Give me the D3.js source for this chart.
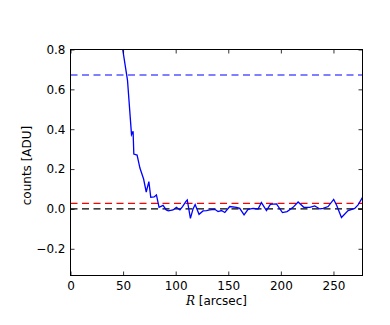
<!DOCTYPE html>
<html>
<head>
<meta charset="utf-8">
<script src="https://cdn.jsdelivr.net/npm/d3@7"></script>
<style>
  body { margin: 0; background: #fff; }
  svg { display: block; }
  text { font-family: "DejaVu Sans", sans-serif; }
</style>
</head>
<body>
<svg width="390" height="325"></svg>
<script>
// radial profile, R in arcsec, counts in ADU
var radius = [47, 54.2, 58, 59.5, 60.2, 63.3, 66, 69.5, 72, 74.5, 76.3, 79.5, 81.7, 84.2, 88, 91, 93, 97.5,
  100.7, 104, 106.5, 109.6, 111, 114, 116.5, 118.5, 122.2, 126, 129.3, 132.4, 137.2, 140.3, 143.5, 146.7,
  151.4, 157.8, 160.9, 165, 168.8, 173.6, 178.3, 181.5, 186.3, 190, 195.8, 201.5, 205.9, 211.6, 216.4,
  221.8, 227.5, 232.2, 237, 240.1, 244.9, 250.2, 252.9, 257.6, 263.9, 270.2, 273.4, 277.6, 280];
var counts = [0.89, 0.645, 0.373, 0.39, 0.275, 0.27, 0.205, 0.15, 0.085, 0.137, 0.058, 0.06, 0.07, 0.008,
  0.018, -0.005, -0.01, -0.005, 0.008, -0.005, 0.012, 0.037, 0.045, -0.047, 0.0, 0.022, -0.027, -0.01,
  -0.008, -0.005, -0.002, -0.013, -0.008, -0.018, 0.012, 0.008, 0.003, -0.03, -0.002, 0.003, 0.0, 0.032,
  -0.008, 0.023, 0.025, -0.018, -0.013, 0.008, 0.035, 0.008, 0.008, 0.015, 0.0, 0.003, 0.012, 0.048, 0.02,
  -0.043, -0.008, 0.003, 0.02, 0.058, 0.07];

// horizontal reference levels
var levels = [0.672, 0.028, 0.0];
var levelColors = ["#0000ff", "#ff0000", "#000000"];

var xTicks = [0, 50, 100, 150, 200, 250];
var yTicks = [-0.2, 0.0, 0.2, 0.4, 0.6, 0.8];

var pLeft = 70.5, pRight = 362.5, pTop = 49.5, pBottom = 275.5;

var svg = d3.select("svg");

var x = d3.scaleLinear().domain([0, 277.6]).range([pLeft, pRight]);
var y = d3.scaleLinear().domain([-0.334, 0.8]).range([pBottom, pTop]);

svg.append("clipPath").attr("id", "clip")
  .append("rect")
  .attr("x", pLeft).attr("y", pTop)
  .attr("width", pRight - pLeft).attr("height", pBottom - pTop);

var plot = svg.append("g").attr("clip-path", "url(#clip)");

plot.selectAll("line.level")
  .data(levels)
  .enter().append("line")
  .attr("class", "level")
  .attr("x1", pLeft).attr("x2", pRight)
  .attr("y1", function(d) { return y(d); })
  .attr("y2", function(d) { return y(d); })
  .attr("stroke", function(d, i) { return levelColors[i]; })
  .attr("stroke-width", 1.2)
  .attr("stroke-dasharray", "7,4.5");

var data = radius.map(function(r, i) { return [r, counts[i]]; });

var line = d3.line()
  .x(function(d) { return x(d[0]); })
  .y(function(d) { return y(d[1]); });

plot.append("path")
  .datum(data)
  .attr("d", line)
  .attr("fill", "none")
  .attr("stroke", "#0000ff")
  .attr("stroke-width", 1.3);

var fmtY = d3.format(".1f");

var gx = svg.append("g")
  .attr("transform", "translate(0," + pBottom + ")")
  .call(d3.axisBottom(x).tickValues(xTicks).tickSize(-4).tickPadding(6));
var gxt = svg.append("g")
  .attr("transform", "translate(0," + pTop + ")")
  .call(d3.axisTop(x).tickValues(xTicks).tickSize(-4).tickFormat(""));
var gy = svg.append("g")
  .attr("transform", "translate(" + pLeft + ",0)")
  .call(d3.axisLeft(y).tickValues(yTicks).tickSize(-4).tickPadding(5).tickFormat(fmtY));
var gyr = svg.append("g")
  .attr("transform", "translate(" + pRight + ",0)")
  .call(d3.axisRight(y).tickValues(yTicks).tickSize(-4).tickFormat(""));

[gx, gxt, gy, gyr].forEach(function(g) {
  g.select(".domain").remove();
  g.selectAll("line").attr("stroke", "#000").attr("stroke-width", 0.8);
  g.selectAll("text").attr("fill", "#000").style("font-size", "12px")
    .style("font-family", "DejaVu Sans, sans-serif");
});

svg.append("rect")
  .attr("x", pLeft).attr("y", pTop)
  .attr("width", pRight - pLeft).attr("height", pBottom - pTop)
  .attr("fill", "none")
  .attr("stroke", "#000")
  .attr("stroke-width", 1);

var xl = svg.append("text")
  .attr("x", (pLeft + pRight) / 2)
  .attr("y", 305)
  .attr("text-anchor", "middle")
  .style("font-size", "12px");
xl.append("tspan").text("R")
  .style("font-family", "DejaVu Serif, serif")
  .style("font-style", "italic");
xl.append("tspan").text(" [arcsec]");

svg.append("text")
  .attr("transform", "translate(31," + ((pTop + pBottom) / 2 + 3) + ") rotate(-90)")
  .attr("text-anchor", "middle")
  .style("font-size", "12px")
  .text("counts [ADU]");
</script>
</body>
</html>
